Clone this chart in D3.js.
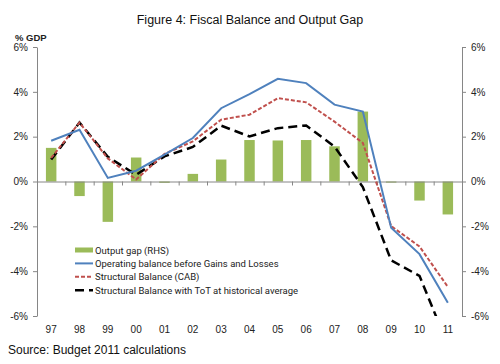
<!DOCTYPE html>
<html>
<head>
<meta charset="utf-8">
<script src="https://cdn.jsdelivr.net/npm/d3@7"></script>
<style>
  body { margin: 0; background: #fff; }
  svg { display: block; }
  .tick text { font-family: "Liberation Sans", Arial, sans-serif; font-size: 10px; fill: #222; }
</style>
</head>
<body>
<div id="chart"></div>
<script>
// data
var years = ['97', '98', '99', '00', '01', '02', '03', '04', '05', '06', '07', '08', '09', '10', '11'];
var outputGap = [1.5, -0.65, -1.8, 1.07, -0.06, 0.34, 0.98, 1.85, 1.83, 1.85, 1.57, 3.12, -0.05, -0.85, -1.47];
var operatingBalance = [1.82, 2.31, 0.16, 0.48, 1.2, 1.94, 3.27, 3.9, 4.58, 4.39, 3.43, 3.12, -2.06, -3.24, -5.41];
var structuralCAB = [1.05, 2.63, 1.03, 0.09, 1.23, 1.79, 2.76, 2.98, 3.72, 3.53, 2.67, 1.72, -1.99, -2.9, -4.7];
var structuralToT = [0.98, 2.63, 1.1, 0.3, 1.12, 1.54, 2.49, 2.01, 2.38, 2.5, 1.56, -0.25, -3.52, -4.21, -7.3];
var yTicks = [-6, -4, -2, 0, 2, 4, 6];
var legendLabels = ['Output gap (RHS)', 'Operating balance before Gains and Losses',
                    'Structural Balance (CAB)', 'Structural Balance with ToT at historical average'];

var width = 500, height = 364;
var plotLeft = 37, plotRight = 462, plotTop = 47, plotBottom = 316;
var green = '#9bbb59', blue = '#4f81bd', red = '#c0504d', axisGray = '#868686';

var svg = d3.select('#chart').append('svg')
  .attr('width', width)
  .attr('height', height);

var x = d3.scaleBand().domain(years).range([plotLeft, plotRight]).paddingInner(0.63).paddingOuter(0.315);
var xEdge = d3.scaleLinear().domain([0, years.length]).range([plotLeft, plotRight]);
var y = d3.scaleLinear().domain([-6, 6]).range([plotBottom, plotTop]);
var yR = d3.scaleLinear().domain([-6, 6]).range([plotBottom, plotTop]);
var cx = function(d, i) { return x(years[i]) + x.bandwidth() / 2; };

svg.append('defs').append('clipPath').attr('id', 'plotClip')
  .append('rect').attr('x', plotLeft).attr('y', plotTop)
  .attr('width', plotRight - plotLeft).attr('height', plotBottom - plotTop);

// title
svg.append('text')
  .attr('x', 250).attr('y', 24)
  .attr('text-anchor', 'middle')
  .style('font-family', '"Liberation Sans", Arial, sans-serif')
  .style('font-size', '12.5px')
  .style('fill', '#111')
  .text('Figure 4: Fiscal Balance and Output Gap');

svg.append('text')
  .attr('x', 15).attr('y', 41)
  .style('font-family', '"Liberation Sans", Arial, sans-serif')
  .style('font-size', '9.5px')
  .style('font-weight', 'bold')
  .style('fill', '#222')
  .text('% GDP');

// bars
svg.append('g').selectAll('rect')
  .data(outputGap)
  .enter()
  .append('rect')
  .attr('x', function(d, i) { return x(years[i]); })
  .attr('width', x.bandwidth())
  .attr('y', function(d) { return yR(Math.max(0, d)); })
  .attr('height', function(d) { return Math.abs(yR(d) - yR(0)); })
  .attr('fill', green);

// left axis
var yAxis = svg.append('g')
  .attr('transform', 'translate(' + plotLeft + ',0)')
  .call(d3.axisLeft(y).tickValues(yTicks).tickSize(4).tickSizeOuter(0).tickPadding(5)
    .tickFormat(function(d) { return d + '%'; }));
yAxis.selectAll('path, line').attr('stroke', axisGray);

// right axis
var yAxisR = svg.append('g')
  .attr('transform', 'translate(' + plotRight + ',0)')
  .call(d3.axisRight(yR).tickValues(yTicks).tickSize(4).tickSizeOuter(0).tickPadding(5)
    .tickFormat(function(d) { return d + '%'; }));
yAxisR.selectAll('path, line').attr('stroke', axisGray);

// x axis line at zero with tick marks at category boundaries
var xAxis = svg.append('g')
  .attr('transform', 'translate(0,' + y(0) + ')')
  .call(d3.axisBottom(xEdge).tickValues(d3.range(years.length + 1)).tickSize(4).tickSizeOuter(0).tickFormat(''));
xAxis.selectAll('path, line').attr('stroke', axisGray);

// category labels along the bottom
var xLabels = svg.append('g')
  .attr('transform', 'translate(0,' + (plotBottom + 10) + ')')
  .call(d3.axisBottom(x).tickSize(0).tickPadding(0));
xLabels.select('.domain').remove();

// lines
var line = d3.line()
  .x(cx)
  .y(function(d) { return y(d); });

var lines = svg.append('g').attr('clip-path', 'url(#plotClip)');

lines.append('path')
  .datum(structuralToT)
  .attr('d', line)
  .attr('fill', 'none')
  .attr('stroke', '#000')
  .attr('stroke-width', 2.5)
  .attr('stroke-dasharray', '9,5');

lines.append('path')
  .datum(structuralCAB)
  .attr('d', line)
  .attr('fill', 'none')
  .attr('stroke', red)
  .attr('stroke-width', 2)
  .attr('stroke-dasharray', '4,2');

lines.append('path')
  .datum(operatingBalance)
  .attr('d', line)
  .attr('fill', 'none')
  .attr('stroke', blue)
  .attr('stroke-width', 2);

// legend
var legendX = 75, legendY = 250, rowH = 13.4;
var legend = svg.append('g').selectAll('g')
  .data(legendLabels)
  .enter()
  .append('g')
  .attr('transform', function(d, i) { return 'translate(' + legendX + ',' + (legendY + i * rowH) + ')'; });

legend.each(function(d, i) {
  var g = d3.select(this);
  if (i == 0) {
    g.append('rect').attr('x', 0).attr('y', -2.5).attr('width', 18).attr('height', 5).attr('fill', green);
  } else if (i == 1) {
    g.append('line').attr('x1', 0).attr('x2', 18).attr('stroke', blue).attr('stroke-width', 2);
  } else if (i == 2) {
    g.append('line').attr('x1', 0).attr('x2', 18).attr('stroke', red).attr('stroke-width', 2)
      .attr('stroke-dasharray', '4,2');
  } else {
    g.append('line').attr('x1', 0).attr('x2', 18).attr('stroke', '#000').attr('stroke-width', 2.5)
      .attr('stroke-dasharray', '9,5');
  }
  g.append('text')
    .attr('x', 20).attr('y', 3.5)
    .style('font-family', 'Roboto, sans-serif')
    .style('font-size', '9.5px')
    .style('fill', '#222')
    .text(d);
});

// source note
svg.append('text')
  .attr('x', 8).attr('y', 354)
  .style('font-family', '"Liberation Sans", Arial, sans-serif')
  .style('font-size', '12px')
  .style('fill', '#111')
  .text('Source: Budget 2011 calculations');
</script>
</body>
</html>
